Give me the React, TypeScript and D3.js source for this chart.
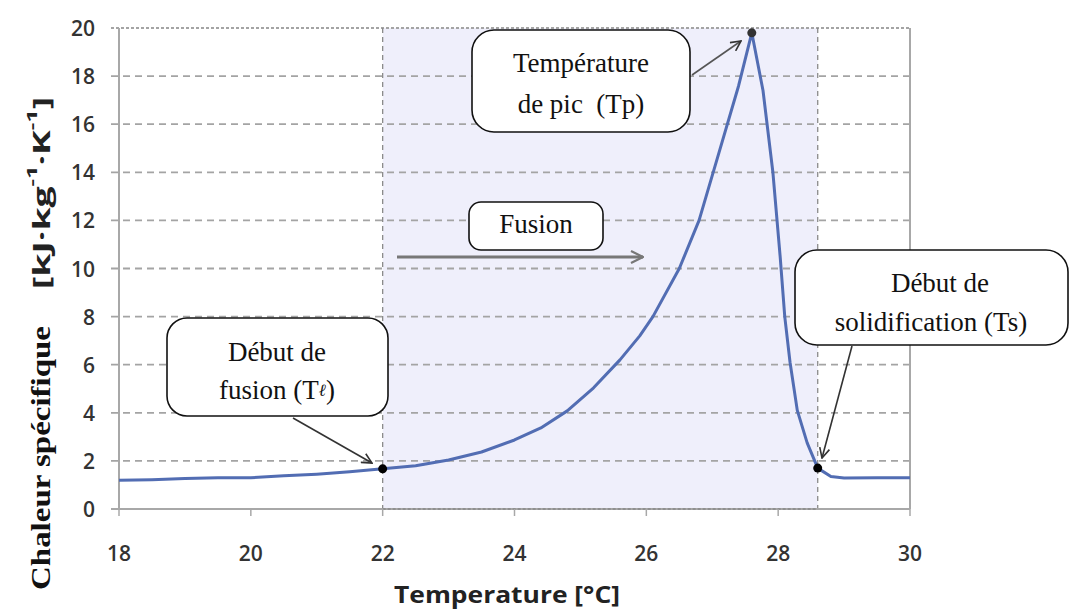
import React from "react";
import * as d3 from "d3";

const temps = [18, 18.5, 19, 19.5, 20, 20.5, 21, 21.5, 22, 22.5, 23, 23.5, 24, 24.4, 24.8, 25.2, 25.6, 25.9, 26.1, 26.5, 26.8, 27.1, 27.4, 27.6, 27.77, 27.92, 28.03, 28.1, 28.18, 28.29, 28.44, 28.6, 28.8, 29, 29.5, 30];
const cp = [1.2, 1.22, 1.27, 1.3, 1.3, 1.38, 1.45, 1.55, 1.67, 1.8, 2.04, 2.37, 2.87, 3.37, 4.08, 5.04, 6.2, 7.2, 8.0, 10.0, 12.0, 14.8, 17.6, 19.8, 17.4, 14.0, 10.5, 8.0, 6.1, 4.1, 2.75, 1.7, 1.35, 1.29, 1.3, 1.3];
const xTicks = [18, 20, 22, 24, 26, 28, 30];
const yTicks = [0, 2, 4, 6, 8, 10, 12, 14, 16, 18, 20];
const meltStart = 22;
const solidStart = 28.6;
const keyPoints = [
  { t: 22, v: 1.67 },
  { t: 28.6, v: 1.7 },
];
const peakPoint = { t: 27.6, v: 19.8 };

const W = 1072;
const H = 612;

export default function App() {
  const x = d3.scaleLinear().domain([18, 30]).range([119, 910]);
  const y = d3.scaleLinear().domain([0, 20]).range([509, 28]);
  const data = temps.map((t, i) => ({ t, v: cp[i] }));
  const line = d3
    .line<{ t: number; v: number }>()
    .x((d) => x(d.t))
    .y((d) => y(d.v))
    .curve(d3.curveLinear);

  const tickFont = "'Open Sans', 'Liberation Sans', sans-serif";
  const serif = "'Liberation Serif', 'Times New Roman', Tinos, Times, serif";
  const boxStroke = "#111";
  const cs = 27;

  return (
    <svg
      width={W}
      height={H}
      viewBox={`0 0 ${W} ${H}`}
      style={{ position: "fixed", left: 0, top: 0, background: "#fff" }}
    >
      <defs>
        <marker id="ah" viewBox="0 0 12 12" refX="11" refY="6" markerWidth="12" markerHeight="12" markerUnits="userSpaceOnUse" orient="auto">
          <path d="M1,1 L11,6 L1,11" fill="none" stroke="#333" strokeWidth="1.6" />
        </marker>
        <marker id="ahg" viewBox="0 0 14 14" refX="13" refY="7" markerWidth="14" markerHeight="14" markerUnits="userSpaceOnUse" orient="auto">
          <path d="M1,1 L13,7 L1,13" fill="none" stroke="#777" strokeWidth="2.2" />
        </marker>
      </defs>

      {/* shaded melting region */}
      <rect
        x={x(meltStart)}
        y={y(20)}
        width={x(solidStart) - x(meltStart)}
        height={y(0) - y(20)}
        fill="#efeffb"
      />

      {/* horizontal gridlines */}
      {yTicks.filter((t) => t > 0).map((t) => (
        <line
          key={"g" + t}
          x1={x(18) - 8}
          x2={x(30)}
          y1={y(t)}
          y2={y(t)}
          stroke="#a4a4a4"
          strokeWidth={1.8}
          strokeDasharray={t === 20 ? "3,2" : "7,5"}
        />
      ))}

      {/* vertical dashed boundaries */}
      {[meltStart, solidStart].map((t) => (
        <line
          key={"v" + t}
          x1={x(t)}
          x2={x(t)}
          y1={y(20)}
          y2={y(0)}
          stroke="#8a8a8a"
          strokeWidth={1.3}
          strokeDasharray="5,4"
        />
      ))}

      {/* axes lines */}
      <line x1={x(18)} x2={x(18)} y1={y(20)} y2={y(0)} stroke="#a8a8a8" strokeWidth={2} />
      <line x1={x(30)} x2={x(30)} y1={y(20)} y2={y(0)} stroke="#a8a8a8" strokeWidth={2} />
      <line x1={x(18) - 8} x2={x(30)} y1={y(0)} y2={y(0)} stroke="#a8a8a8" strokeWidth={2} />
      <line x1={x(meltStart)} x2={x(solidStart)} y1={y(0)} y2={y(0)} stroke="#888" strokeWidth={1.5} strokeDasharray="3,2" />
      {xTicks.map((t) => (
        <line key={"xt" + t} x1={x(t)} x2={x(t)} y1={y(0)} y2={y(0) + 7} stroke="#a8a8a8" strokeWidth={1.5} />
      ))}

      {/* tick labels */}
      {yTicks.map((t) => (
        <text
          key={"yl" + t}
          x={95}
          y={y(t)}
          textAnchor="end"
          dominantBaseline="central"
          fontFamily={tickFont}
          fontSize={21}
          fontWeight={600}
          fill="#333"
        >
          {t}
        </text>
      ))}
      {xTicks.map((t) => (
        <text
          key={"xl" + t}
          x={x(t)}
          y={553}
          textAnchor="middle"
          dominantBaseline="central"
          fontFamily={tickFont}
          fontSize={21}
          fontWeight={600}
          fill="#333"
        >
          {t}
        </text>
      ))}

      {/* axis titles */}
      <text
        x={507}
        y={593}
        textAnchor="middle"
        dominantBaseline="central"
        fontFamily={tickFont}
        fontSize={24}
        fontWeight={700}
        fill="#222"
        textLength={226}
        lengthAdjust="spacingAndGlyphs"
      >
        Temperature [°C]
      </text>
      <text
        transform="translate(40,458) rotate(-90)"
        textAnchor="middle"
        dominantBaseline="central"
        fontFamily={serif}
        fontSize={28}
        fontWeight={700}
        fill="#111"
        textLength={264}
        lengthAdjust="spacingAndGlyphs"
      >
        Chaleur spécifique
      </text>
      <text
        transform="translate(40,193) rotate(-90)"
        textAnchor="middle"
        dominantBaseline="central"
        fontFamily={tickFont}
        fontSize={24}
        fontWeight={700}
        fill="#222"
        textLength={192}
        lengthAdjust="spacingAndGlyphs"
      >
        [kJ·kg<tspan dy={-9} fontSize={15}>-1</tspan>
        <tspan dy={9}>·K</tspan>
        <tspan dy={-9} fontSize={15}>-1</tspan>
        <tspan dy={9}>]</tspan>
      </text>

      {/* curve */}
      <path d={line(data) || ""} fill="none" stroke="#526db3" strokeWidth={3} strokeLinejoin="round" />

      {/* key points */}
      {keyPoints.map((p) => (
        <circle key={"k" + p.t} cx={x(p.t)} cy={y(p.v)} r={4.5} fill="#000" />
      ))}
      <circle cx={x(peakPoint.t)} cy={y(peakPoint.v)} r={4.5} fill="#333" />

      {/* Fusion arrow */}
      <line x1={397} y1={257} x2={643} y2={257} stroke="#777" strokeWidth={3} markerEnd="url(#ahg)" />

      {/* callout: Début de fusion */}
      <rect x={167} y={318} width={221} height={98} rx={20} fill="#fff" stroke={boxStroke} strokeWidth={1.6} />
      <text x={277} y={352} textAnchor="middle" dominantBaseline="central" fontFamily={serif} fontSize={cs} fill="#111">
        Début de
      </text>
      <text x={277} y={390} textAnchor="middle" dominantBaseline="central" fontFamily={serif} fontSize={cs} fill="#111">
        fusion (T<tspan fontSize={17} fontStyle="italic">ℓ</tspan>)
      </text>
      <line x1={293} y1={418} x2={372} y2={463} stroke="#333" strokeWidth={1.6} markerEnd="url(#ah)" />

      {/* callout: Température de pic */}
      <rect x={472} y={30} width={218} height={102} rx={22} fill="#fff" stroke={boxStroke} strokeWidth={1.6} />
      <text x={581} y={63} textAnchor="middle" dominantBaseline="central" fontFamily={serif} fontSize={cs} fill="#111">
        Température
      </text>
      <text x={581} y={104} textAnchor="middle" dominantBaseline="central" fontFamily={serif} fontSize={cs} fill="#111" style={{ whiteSpace: "pre" }}>
        {"de pic  (Tp)"}
      </text>
      <line x1={692} y1={75} x2={741} y2={41} stroke="#555" strokeWidth={1.6} markerEnd="url(#ah)" />

      {/* callout: Fusion */}
      <rect x={469} y={202} width={134} height={48} rx={12} fill="#fff" stroke={boxStroke} strokeWidth={1.6} />
      <text x={536} y={224} textAnchor="middle" dominantBaseline="central" fontFamily={serif} fontSize={cs} fill="#111">
        Fusion
      </text>

      {/* callout: Début de solidification */}
      <rect x={795} y={250} width={273} height={95} rx={22} fill="#fff" stroke={boxStroke} strokeWidth={1.6} />
      <text x={940} y={283} textAnchor="middle" dominantBaseline="central" fontFamily={serif} fontSize={cs} fill="#111">
        Début de
      </text>
      <text x={931} y={322} textAnchor="middle" dominantBaseline="central" fontFamily={serif} fontSize={cs} fill="#111">
        solidification (Ts)
      </text>
      <line x1={852} y1={346} x2={822} y2={458} stroke="#333" strokeWidth={1.6} markerEnd="url(#ah)" />
    </svg>
  );
}
